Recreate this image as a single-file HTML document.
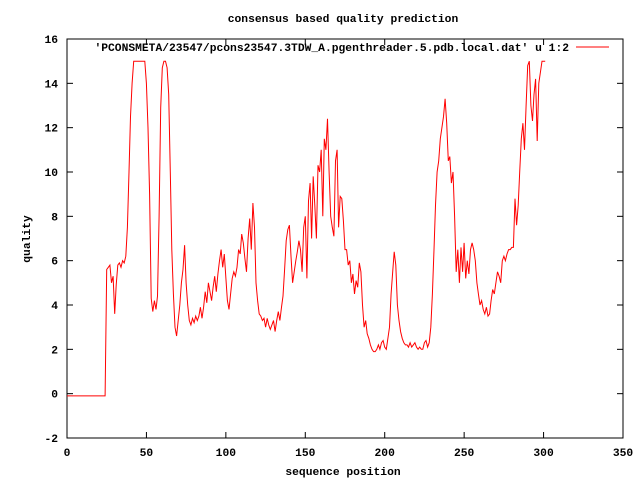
<!DOCTYPE html>
<html><head><meta charset="utf-8"><style>
html,body{margin:0;padding:0;background:#fff;}
svg{display:block;font-family:"Liberation Mono",monospace;font-size:11.3px;font-weight:bold;}
</style></head><body>
<svg id="chart" width="640" height="480" xmlns="http://www.w3.org/2000/svg">
<rect width="640" height="480" fill="#fff"/>
<text x="343" y="22" text-anchor="middle">consensus based quality prediction</text>
<text x="343" y="475" text-anchor="middle">sequence position</text>
<text x="0" y="0" text-anchor="middle" transform="translate(30,239) rotate(-90)">quality</text>
<rect x="67" y="39" width="556" height="399" fill="none" stroke="#000" stroke-width="1"/>
<g id="axes"></g>
<text x="569" y="51" text-anchor="end">'PCONSMETA/23547/pcons23547.3TDW_A.pgenthreader.5.pdb.local.dat' u 1:2</text>
<line x1="576" y1="47" x2="609" y2="47" stroke="#f00" stroke-width="1"/>
<polyline id="series" fill="none" stroke="#f00" stroke-width="1"/>
</svg>
<script>
const xTicks=[0,50,100,150,200,250,300,350];
const yTicks=[-2,0,2,4,6,8,10,12,14,16];
const positions=[0,24,25,26,27,28,29,30,31,32,33,34,35,36,37,38,39,40,41,42,49,50,51,52,53,54,55,56,57,58,59,60,61,62,63,64,65,66,67,68,69,70,71,72,73,74,75,76,77,78,79,80,81,82,83,84,85,86,87,88,89,90,91,92,93,94,95,96,97,98,99,100,101,102,103,104,105,106,107,108,109,110,111,112,113,114,115,116,117,118,119,120,121,122,123,124,125,126,127,128,129,130,131,132,133,134,135,136,137,138,139,140,141,142,143,144,145,146,147,148,149,150,151,152,153,154,155,156,157,158,159,160,161,162,163,164,165,166,167,168,169,170,171,172,173,174,175,176,177,178,179,180,181,182,183,184,185,186,187,188,189,190,191,192,193,194,195,196,197,198,199,200,201,202,203,204,205,206,207,208,209,210,211,212,213,214,215,216,217,218,219,220,221,222,223,224,225,226,227,228,229,230,231,232,233,234,235,236,237,238,239,240,241,242,243,244,245,246,247,248,249,250,251,252,253,254,255,256,257,258,259,260,261,262,263,264,265,266,267,268,269,270,271,272,273,274,275,276,277,278,279,280,281,282,283,284,285,286,287,288,289,290,291,292,293,294,295,296,297,298,299,301];
const quality=[-0.1,-0.1,5.6,5.7,5.8,5.0,5.3,3.6,4.9,5.8,5.9,5.7,6.0,5.9,6.2,7.5,10.0,12.5,14.0,15,15,14.0,12.0,9.0,4.3,3.7,4.2,3.8,4.4,8.0,12.9,14.7,15,15,14.7,13.5,10,6.5,4.5,3.0,2.6,3.3,4.0,5.0,5.6,6.7,5.0,4.0,3.3,3.1,3.4,3.2,3.5,3.3,3.5,3.9,3.4,3.9,4.6,4.1,5.0,4.6,4.2,4.8,5.3,4.6,5.4,6.0,6.5,5.7,6.3,5.2,4.2,3.8,4.5,5.2,5.5,5.3,5.7,6.5,6.3,7.2,6.8,6.1,5.5,7.0,7.9,6.5,8.6,7.5,5.0,4.2,3.6,3.5,3.3,3.4,3.0,3.4,3.1,2.9,3.1,3.3,2.8,3.3,3.7,3.3,3.9,4.4,5.6,6.9,7.4,7.6,6.2,5.0,5.5,6.0,6.4,6.9,6.5,5.5,7.5,8.0,5.2,8.7,9.5,7.0,9.8,8.5,7.0,10.3,10.0,11.0,8.0,11.5,11.0,12.4,10.0,8.0,7.5,7.1,10.5,11.0,7.5,8.9,8.8,7.8,6.5,6.5,5.8,6.0,5.0,5.4,4.5,5.1,4.8,5.9,5.5,4.0,3.0,3.3,2.7,2.5,2.2,2.0,1.9,1.9,2.0,2.2,2.0,2.3,2.4,2.1,2.0,2.5,3.0,4.5,5.5,6.4,5.8,4.0,3.3,2.8,2.5,2.3,2.2,2.2,2.1,2.3,2.1,2.2,2.3,2.1,2.0,2.1,2.0,2.0,2.3,2.4,2.1,2.3,3.0,4.5,6.5,8.5,10.0,10.5,11.5,12.0,12.5,13.3,12.2,10.5,10.7,9.5,10.0,8.0,5.5,6.5,5.0,6.6,5.5,6.8,5.2,6.0,5.4,6.5,6.8,6.5,6.0,5.0,4.5,4.0,4.2,3.8,3.6,3.9,3.5,3.6,4.2,4.7,4.5,5.0,5.5,5.3,5.0,6.0,6.2,6.0,6.3,6.5,6.5,6.6,6.6,8.8,7.6,8.5,10.0,11.5,12.2,11.0,13.0,14.8,15,13.0,12.3,13.5,14.2,11.4,14.0,14.5,15,15];
const X0=67,X1=623,Y0=438,Y1=39,xMin=0,xMax=350,yMin=-2,yMax=16;
function sx(v){return X0+(v-xMin)/(xMax-xMin)*(X1-X0);}
function sy(v){return Y0-(v-yMin)/(yMax-yMin)*(Y0-Y1);}
const NS="http://www.w3.org/2000/svg";
const axes=document.getElementById('axes');
function mk(tag,attrs){const e=document.createElementNS(NS,tag);for(const k in attrs)e.setAttribute(k,attrs[k]);return e;}
xTicks.forEach(t=>{
  const x=sx(t);
  const a=mk('line',{x1:x,y1:Y0,x2:x,y2:Y0-6,stroke:'#000'});
  
  
  axes.appendChild(a);
  const b=mk('line',{x1:x,y1:Y1,x2:x,y2:Y1+6,stroke:'#000'});
  
  
  axes.appendChild(b);
  const l=mk('text',{x:x,y:456,'text-anchor':'middle'});
  
  
  l.textContent=t;axes.appendChild(l);
});
yTicks.forEach(t=>{
  const y=sy(t);
  const a=mk('line',{x1:X0,y1:y,x2:X0+6,y2:y,stroke:'#000'});
  
  
  axes.appendChild(a);
  const b=mk('line',{x1:X1,y1:y,x2:X1-6,y2:y,stroke:'#000'});
  
  
  axes.appendChild(b);
  const l=mk('text',{x:58,y:y+4,'text-anchor':'end'});
  
  
  l.textContent=t;axes.appendChild(l);
});
document.getElementById('series').setAttribute('points',positions.map((p,i)=>sx(p).toFixed(1)+','+sy(quality[i]).toFixed(1)).join(' '));
</script>
</body></html>
